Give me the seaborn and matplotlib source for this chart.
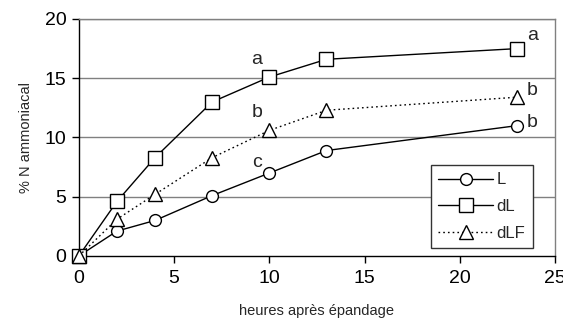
import matplotlib
matplotlib.use("Agg")
import matplotlib.pyplot as plt
import seaborn as sns
import pandas as pd

hours = [0, 2, 4, 7, 10, 13, 23]
L_vals = [0, 2.1, 3.0, 5.1, 7.0, 8.9, 11.0]
dL_vals = [0, 4.6, 8.3, 13.0, 15.1, 16.6, 17.5]
dLF_vals = [0, 3.1, 5.2, 8.3, 10.6, 12.3, 13.4]
series_names = ["L", "dL", "dLF"]
xticks = [0, 5, 10, 15, 20, 25]
yticks = [0, 5, 10, 15, 20]

sns.set_style("white")
plt.rcParams['font.family'] = ['Liberation Sans', 'DejaVu Sans']

fig = plt.figure(figsize=(5.63, 3.22), dpi=100)
ax = fig.add_axes([0.140, 0.205, 0.846, 0.736])

for yv in [5, 10, 15, 20]:
    ax.axhline(yv, color="#808080", lw=1.0, zorder=0)

styles = {
    "L": dict(marker="o", ms=8.5, ls="-"),
    "dL": dict(marker="s", ms=9.5, ls="-"),
    "dLF": dict(marker="^", ms=9.5, ls=(0, (1.2, 2.2))),
}
for name, vals in zip(series_names, [L_vals, dL_vals, dLF_vals]):
    df = pd.DataFrame({"h": hours, "v": vals})
    st = styles[name]
    sns.lineplot(data=df, x="h", y="v", ax=ax, color="black", lw=1.0,
                 marker=st["marker"], markersize=st["ms"], markerfacecolor="white",
                 markeredgecolor="black", markeredgewidth=1.0, linestyle=st["ls"],
                 label=name, clip_on=False, zorder=3)

ax.set_xlim(0, 25)
ax.set_ylim(0, 20)
ax.set_xticks(xticks)
ax.set_yticks(yticks)
ax.tick_params(axis="both", labelsize=14, length=5, width=1, direction="out",
               bottom=True, left=True, colors="black")
ax.tick_params(axis="x", pad=5)
ax.tick_params(axis="y", pad=4)
for s in ["left", "bottom"]:
    ax.spines[s].set_color("black")
    ax.spines[s].set_linewidth(1.0)
for s in ["top", "right"]:
    ax.spines[s].set_color("#808080")
    ax.spines[s].set_linewidth(1.0)

ax.set_xlabel("heures après épandage", fontsize=10.5, labelpad=12)
ax.set_ylabel("% N ammoniacal", fontsize=10.5, labelpad=8)

tfs = 14
ax.text(9.35, 16.6, "a", fontsize=tfs, ha="center", va="center")
ax.text(9.35, 12.1, "b", fontsize=tfs, ha="center", va="center")
ax.text(9.35, 7.9, "c", fontsize=tfs, ha="center", va="center")
ax.text(23.8, 18.6, "a", fontsize=tfs, ha="center", va="center")
ax.text(23.8, 14.0, "b", fontsize=tfs, ha="center", va="center")
ax.text(23.8, 11.3, "b", fontsize=tfs, ha="center", va="center")

leg = ax.legend(loc="lower right", bbox_to_anchor=(0.953, 0.033), fontsize=12,
                frameon=True, fancybox=False, edgecolor="#333333",
                handlelength=3.3, handletextpad=0.2, labelspacing=0.7,
                borderpad=0.45, borderaxespad=0)
leg.get_frame().set_linewidth(1.0)
leg.get_frame().set_alpha(1)

fig.savefig("out.png", dpi=100)
